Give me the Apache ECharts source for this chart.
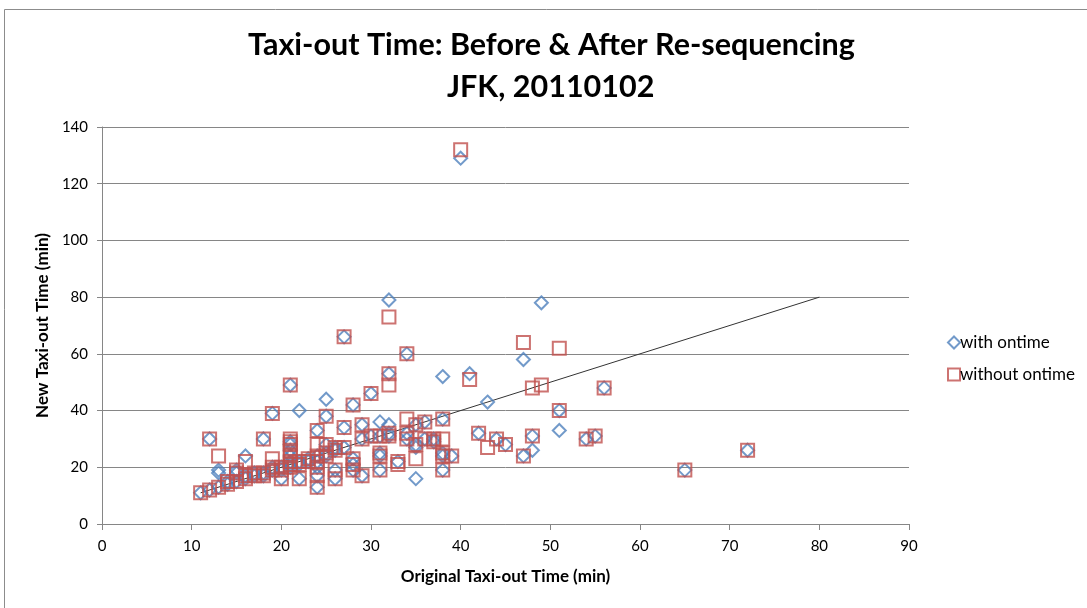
<!DOCTYPE html>
<html>
<head>
<meta charset="utf-8">
<script src="https://cdn.jsdelivr.net/npm/echarts@6/dist/echarts.min.js"></script>
<style>
  html, body { margin: 0; padding: 0; background: #fff; }
  #chart { width: 1087px; height: 608px; }
</style>
</head>
<body>
<div id="chart"></div>
<script>
// points: [original, new] in minutes
const bothSeries = [
  [11,11],[12,12],[12,30],[13,13],[14,14],[14,15],[15,15],[15,18],[15,19],[16,16],[16,17],
  [17,17],[17,18],[18,18],[18,17],[18,30],[19,19],[19,20],[19,39],[20,16],[20,20],[20,19],
  [21,21],[21,20],[21,22],[21,24],[21,26],[21,28],[21,29],[21,49],[22,16],[22,21],[22,22],
  [23,22],[23,23],[24,13],[24,17],[24,20],[24,22],[24,24],[24,33],[25,25],[25,24],[25,28],
  [25,38],[26,16],[26,19],[26,26],[26,27],[27,27],[27,34],[27,66],[28,19],[28,21],[28,23],
  [28,42],[29,17],[29,30],[29,35],[30,31],[30,46],[31,19],[31,24],[31,25],[31,31],[32,31],
  [32,32],[32,53],[33,22],[34,30],[34,32],[34,60],[35,28],[35,35],[36,30],[36,36],[37,29],
  [37,30],[38,19],[38,24],[38,25],[38,37],[39,24],[42,32],[44,30],[45,28],[47,24],[48,31],
  [51,40],[54,30],[55,31],[56,48],[65,19],[72,26]
];
// points where the two runs differ
const withOnly = [
  [13,18],[13,19],[16,24],[22,40],[25,44],[31,36],[32,35],[32,79],[35,16],[35,27],
  [38,52],[40,129],[41,53],[43,43],[47,58],[48,26],[49,78],[51,33]
];
const withoutOnly = [
  [13,24],[16,22],[19,23],[21,30],[24,28],[32,49],[32,73],[33,21],[34,37],[35,23],
  [38,30],[40,132],[41,51],[43,27],[47,64],[48,48],[49,49],[51,62]
];
const withOntime = bothSeries.concat(withOnly);
const withoutOntime = bothSeries.concat(withoutOnly);
const refLine = [[11,11],[80,80]];

const xTicks = { min: 0, max: 90, interval: 10 };
const yTicks = { min: 0, max: 140, interval: 20 };

const font = 'Lato, "Open Sans", sans-serif';
const titleStyle = { fontSize: 30.5, fontWeight: 'bold', color: '#000', lineHeight: 42, fontFamily: font };
const chart = echarts.init(document.getElementById('chart'));

chart.setOption({
  animation: false,
  textStyle: { fontFamily: font },
  title: [
    { text: 'Taxi-out Time: Before & After Re-sequencing', left: 243, top: 19, textStyle: titleStyle },
    { text: 'JFK, 20110102', left: 442, top: 61, textStyle: titleStyle }
  ],
  graphic: [{
    type: 'rect',
    shape: { x: 4.5, y: 9.5, width: 1100, height: 620 },
    style: { fill: 'none', stroke: '#8c8c8c', lineWidth: 1 },
    silent: true
  }],
  legend: {
    orient: 'vertical',
    left: 942,
    top: 329,
    itemGap: 15,
    itemWidth: 12,
    itemHeight: 12,
    data: ['with ontime', 'without ontime'],
    textStyle: { fontSize: 17, color: '#000', padding: [0, 0, 0, -5] }
  },
  grid: { left: 102, right: 178, top: 127, bottom: 84, containLabel: false },
  xAxis: {
    type: 'value',
    min: xTicks.min, max: xTicks.max, interval: xTicks.interval,
    name: 'Original Taxi-out Time (min)',
    nameLocation: 'middle',
    nameGap: 44,
    nameTextStyle: { fontSize: 17, fontWeight: 'bold', color: '#000' },
    axisLine: { lineStyle: { color: '#868686' } },
    axisTick: { show: true, length: 6, lineStyle: { color: '#868686' } },
    axisLabel: { fontSize: 15, color: '#000', margin: 15 },
    splitLine: { show: false }
  },
  yAxis: {
    type: 'value',
    min: yTicks.min, max: yTicks.max, interval: yTicks.interval,
    name: 'New Taxi-out Time (min)',
    nameLocation: 'middle',
    nameGap: 50,
    nameTextStyle: { fontSize: 17, fontWeight: 'bold', color: '#000' },
    axisLine: { show: true, lineStyle: { color: '#868686' } },
    axisTick: { show: true, length: 5, lineStyle: { color: '#868686' } },
    axisLabel: { fontSize: 15, color: '#000', margin: 14 },
    splitLine: { lineStyle: { color: '#868686', width: 1 } }
  },
  series: [
    {
      name: 'ref',
      type: 'line',
      data: refLine,
      symbol: 'none',
      lineStyle: { color: '#333', width: 1 },
      silent: true,
      z: 1
    },
    {
      name: 'with ontime',
      type: 'scatter',
      data: withOntime,
      symbol: 'diamond',
      symbolSize: 13,
      itemStyle: { color: 'rgba(255,255,255,0)', borderColor: '#4F81BD', borderWidth: 2 },
      z: 2
    },
    {
      name: 'without ontime',
      type: 'scatter',
      data: withoutOntime,
      symbol: 'rect',
      symbolSize: 13,
      itemStyle: { color: 'rgba(255,255,255,0)', borderColor: '#C0504D', borderWidth: 2 },
      z: 3
    }
  ]
});
</script>
</body>
</html>
